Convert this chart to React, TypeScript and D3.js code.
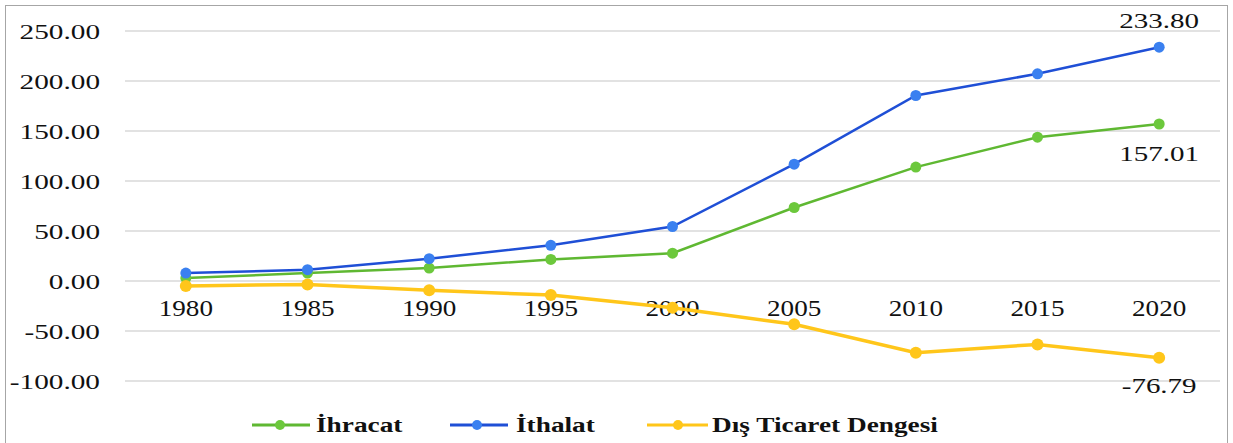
import React from "react";
import * as d3 from "d3";

const years = ["1980", "1985", "1990", "1995", "2000", "2005", "2010", "2015", "2020"];
const ihracat = [2.9, 8.0, 13.0, 21.6, 27.8, 73.5, 113.9, 143.8, 157.01];
const ithalat = [7.9, 11.3, 22.3, 35.7, 54.5, 116.8, 185.5, 207.2, 233.8];
const denge = [-5.0, -3.4, -9.3, -14.1, -26.7, -43.3, -71.7, -63.4, -76.79];
const yTicks = [250, 200, 150, 100, 50, 0, -50, -100];
const seriesNames = ["İhracat", "İthalat", "Dış Ticaret Dengesi"];

const W = 1233;
const H = 443;
const FONT = '"Liberation Serif", "Times New Roman", "DejaVu Serif", serif';

type TProps = {
  x: number;
  y: number;
  sx: number;
  size: number;
  anchor?: "start" | "middle" | "end";
  bold?: boolean;
  dy?: string;
  children: React.ReactNode;
};

function T({ x, y, sx, size, anchor = "start", bold = false, dy, children }: TProps) {
  return (
    <text
      transform={`translate(${x},${y}) scale(${sx},1)`}
      textAnchor={anchor}
      dy={dy}
      style={{ fontFamily: FONT, fontSize: size, fontWeight: bold ? 700 : 400 }}
      fill="#111"
    >
      {children}
    </text>
  );
}

export default function App() {
  const x = d3.scalePoint<string>().domain(years).range([125, 1220]).padding(0.5);
  const y = d3.scaleLinear().domain([-100, 250]).range([381, 31]);
  const line = d3
    .line<number>()
    .x((_, i) => x(years[i]) as number)
    .y((d) => y(d));

  const series = [
    { name: seriesNames[0], data: ihracat, stroke: "#5fb832", fill: "#6cc83c", width: 2.5, r: 5.5 },
    { name: seriesNames[1], data: ithalat, stroke: "#1f4fd6", fill: "#3a80f0", width: 2.5, r: 5.5 },
    { name: seriesNames[2], data: denge, stroke: "#ffc61a", fill: "#ffc61a", width: 3.5, r: 6 },
  ];

  const legend = [
    { lx1: 252, lx2: 310, mx: 280, tx: 316 },
    { lx1: 450, lx2: 508, mx: 477, tx: 516 },
    { lx1: 647, lx2: 708, mx: 678, tx: 712 },
  ];

  const last = years[years.length - 1];
  const lastX = x(last) as number;

  return (
    <svg
      width={W}
      height={H}
      style={{ position: "absolute", left: 0, top: 0, background: "#fff" }}
    >
      <rect x={0} y={0} width={W} height={H} fill="#fff" />
      <rect x={5.5} y={5.5} width={1222} height={460} fill="none" stroke="#a6a6a6" strokeWidth={1} />
      {yTicks.map((t) => (
        <g key={t}>
          <line x1={125} x2={1220} y1={y(t)} y2={y(t)} stroke="#d9d9d9" strokeWidth={1.5} />
          <T x={100} y={y(t) + 7.5} sx={1.33} size={22} anchor="end">
            {t.toFixed(2)}
          </T>
        </g>
      ))}
      {years.map((yr) => (
        <T key={yr} x={x(yr) as number} y={316} sx={1.18} size={23} anchor="middle">
          {yr}
        </T>
      ))}
      {series.map((s) => (
        <g key={s.name}>
          <path d={line(s.data) || ""} fill="none" stroke={s.stroke} strokeWidth={s.width} />
          {s.data.map((v, i) => (
            <circle key={i} cx={x(years[i]) as number} cy={y(v)} r={s.r} fill={s.fill} />
          ))}
        </g>
      ))}
      <T x={lastX} y={28} sx={1.38} size={21} anchor="middle">
        {ithalat[ithalat.length - 1].toFixed(2)}
      </T>
      <T x={lastX} y={161} sx={1.38} size={21} anchor="middle">
        {ihracat[ihracat.length - 1].toFixed(2)}
      </T>
      <T x={lastX} y={393} sx={1.38} size={21} anchor="middle">
        {denge[denge.length - 1].toFixed(2)}
      </T>
      {series.map((s, i) => {
        const L = legend[i];
        return (
          <g key={"lg" + s.name}>
            <line x1={L.lx1} x2={L.lx2} y1={425} y2={425} stroke={s.stroke} strokeWidth={3} />
            <circle cx={L.mx} cy={425} r={5} fill={s.fill} />
            <T x={L.tx} y={432} sx={1.3} size={21} bold>
              {s.name}
            </T>
          </g>
        );
      })}
    </svg>
  );
}
